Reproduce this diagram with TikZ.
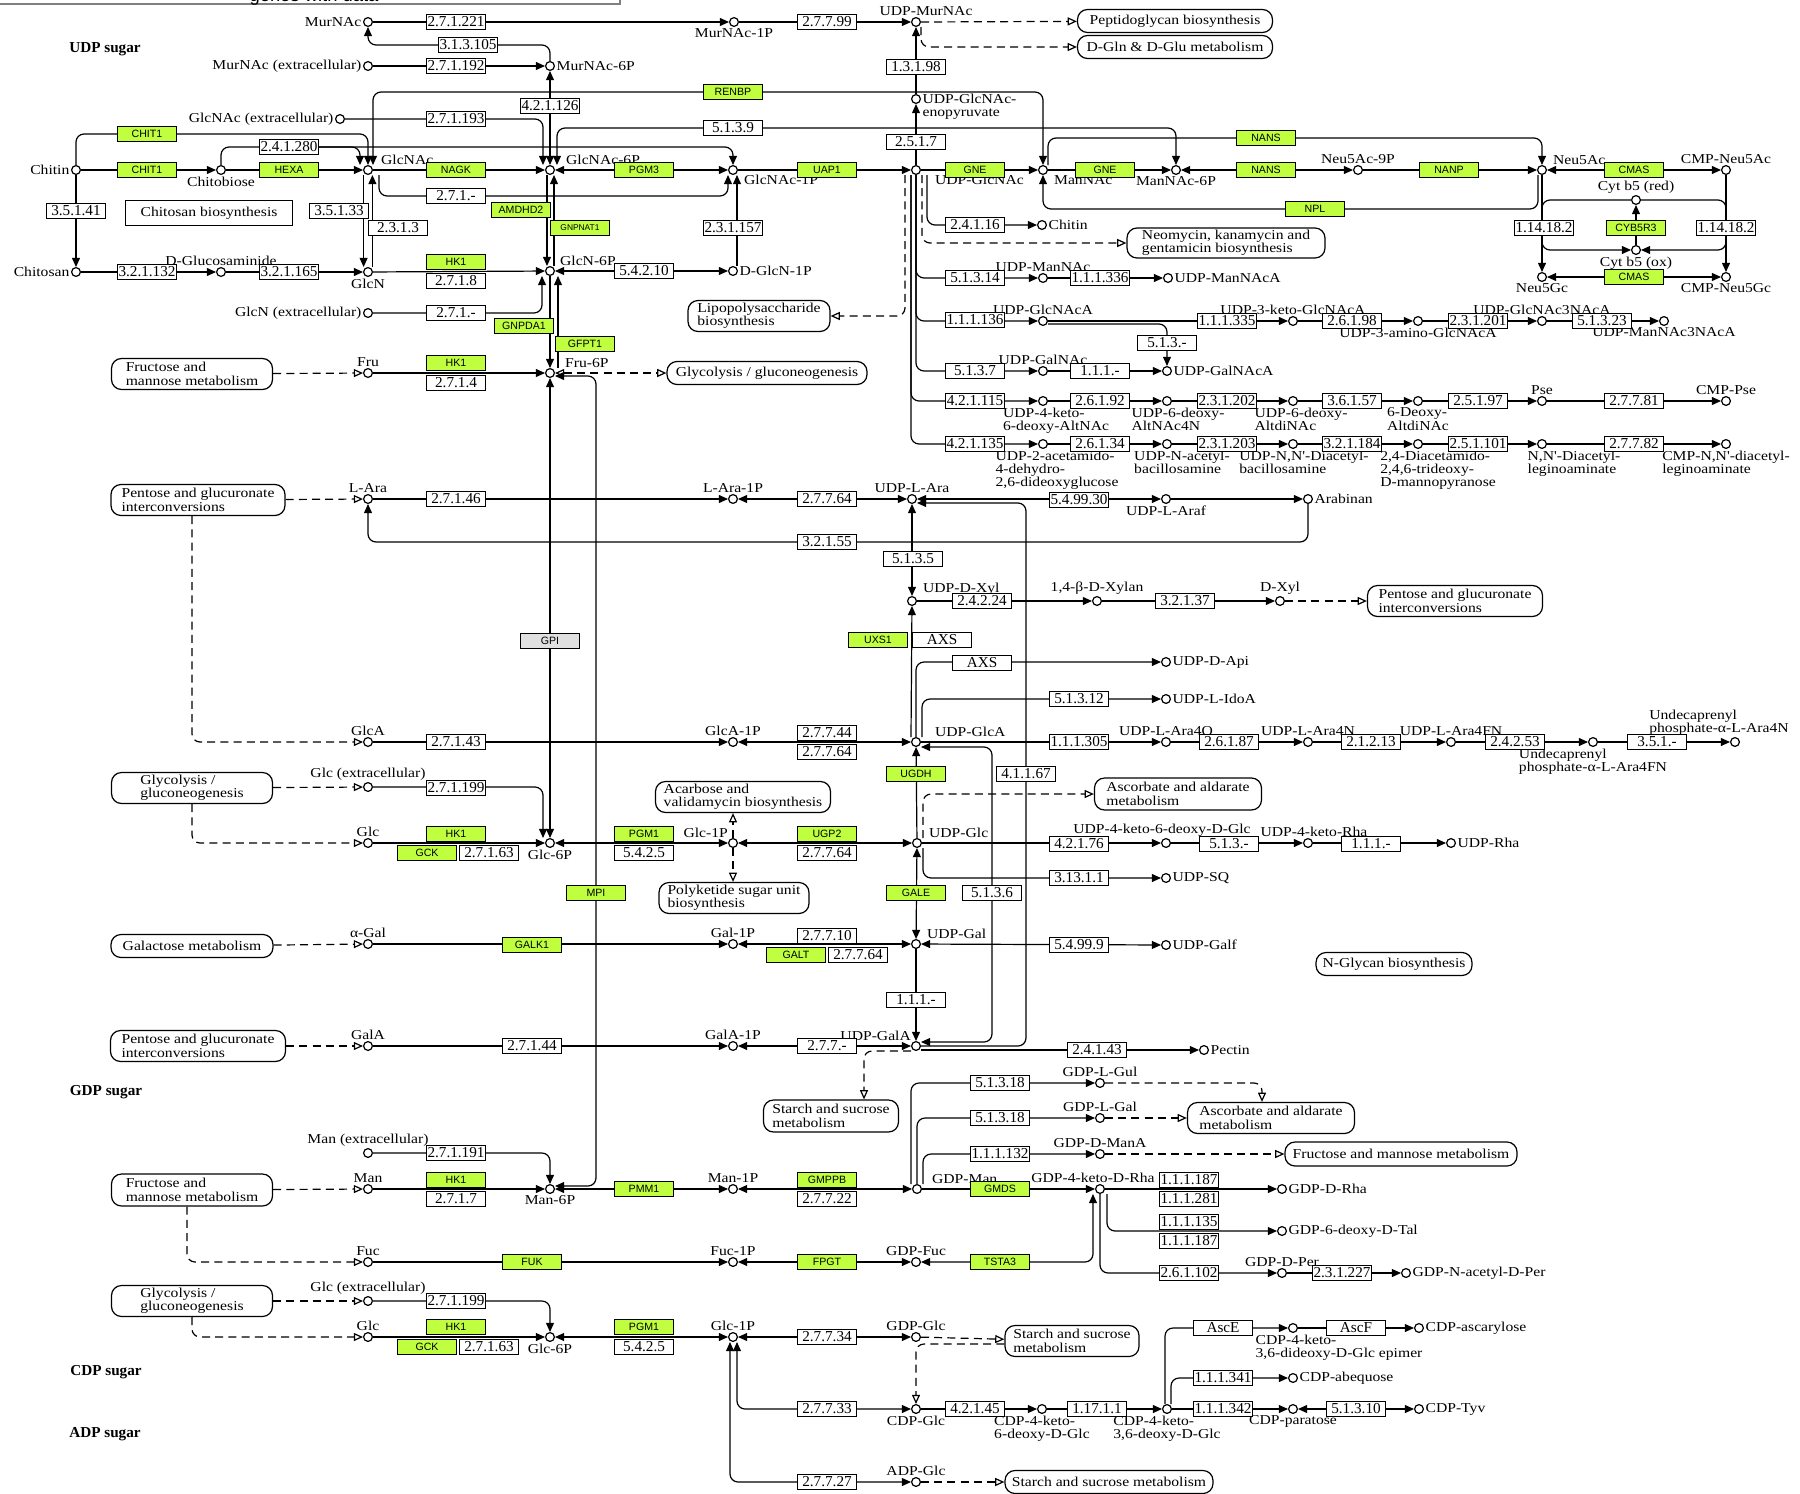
\documentclass[tikz,border=0pt]{standalone}
\usepackage{fontspec}
\setmainfont{Liberation Serif}
\newfontfamily\keggserif[FakeStretch=1.15]{Liberation Serif}
\newfontfamily\keggsans{Liberation Sans}
\usetikzlibrary{arrows.meta,positioning}
\pgfdeclarelayer{bg}
\pgfsetlayers{bg,main}
\definecolor{hit}{RGB}{191,255,63}
\definecolor{nohit}{RGB}{224,224,224}
\newcommand\cpdfont{\keggserif\fontsize{6.8}{6.7}\selectfont\lineskiplimit=-20pt\relax}
\newcommand\ecfont{\fontsize{7.6}{8}\selectfont}
\newcommand\genefont{\keggsans\fontsize{5.3}{6}\selectfont}
\tikzset{
  >={Triangle[length=4.6pt,width=4pt]},
  cpd/.style={circle,draw,fill=white,line width=0.6pt,minimum size=4.4pt,inner sep=0pt},
  lbl/.style={font=\cpdfont,inner sep=0.6pt,align=left},
  enz/.style={draw,fill=white,line width=0.6pt,minimum width=29.5pt,minimum height=7.6pt,inner sep=0pt,font=\ecfont},
  gene/.style={enz,fill=hit,font=\genefont},
  pmap/.style={draw,fill=white,rounded corners=5pt,line width=0.6pt,font=\cpdfont,align=left,inner sep=1pt},
  grp/.style={font=\bfseries\fontsize{7.6}{8}\selectfont,inner sep=0pt},
  rxn/.style={line width=0.6pt,rounded corners=4pt},
  fw/.style={->},
  bd/.style={<->},
  dl/.style={line width=0.6pt,rounded corners=4pt,dash pattern=on 4pt off 2.6pt,-{Triangle[open,length=4.6pt,width=4pt]}},
  dlb/.style={dl,{Triangle[open,length=4.6pt,width=4pt]}-{Triangle[open,length=4.6pt,width=4pt]}}
}
\begin{document}
\begin{tikzpicture}[x=0.5pt,y=-0.5pt]
\useasboundingbox (0,0) rectangle (1800,1494);
\begin{scope}
\clip (0,0) rectangle (1800,1494);
\draw[gray,line width=0.8pt,fill=white] (-10,-40) rectangle (620,4);
\node[font=\keggsans\fontsize{9.2}{10}\selectfont] (legend) at (314,-3) {genes with data};
\end{scope}

\node[grp] (udpsg) at (105,49) {UDP sugar};
\node[grp] (gdpsg) at (106,1092) {GDP sugar};
\node[grp] (cdpsg) at (106,1372) {CDP sugar};
\node[grp] (adpsg) at (105,1434) {ADP sugar};

% pathway maps
\node[pmap,minimum width=97.5pt,minimum height=11.5pt] (pepmap) at (1175,21) {Peptidoglycan biosynthesis};
\node[pmap,minimum width=97.5pt,minimum height=11.5pt] (dglnmap) at (1175,47) {D-Gln \& D-Glu metabolism};
\node[draw,fill=white,line width=0.6pt,minimum width=83.5pt,minimum height=11pt,font=\cpdfont] (chitobio) at (209,213) {Chitosan biosynthesis};
\node[pmap,minimum width=99pt,minimum height=15pt] (neomap) at (1226,243) {Neomycin, kanamycin and\\gentamicin biosynthesis};
\node[pmap,minimum width=71pt,minimum height=15.5pt] (lpsmap) at (759,316) {Lipopolysaccharide\\biosynthesis};
\node[pmap,minimum width=80.5pt,minimum height=15.5pt] (frucmapa) at (192,374) {Fructose and\\mannose metabolism};
\node[pmap,minimum width=100pt,minimum height=11.5pt] (glymapa) at (767,373) {Glycolysis / gluconeogenesis};
\node[pmap,minimum width=87pt,minimum height=15.5pt] (pentmapa) at (198,500) {Pentose and glucuronate\\interconversions};
\node[pmap,minimum width=87.5pt,minimum height=15.5pt] (pentmapb) at (1455,601) {Pentose and glucuronate\\interconversions};
\node[pmap,minimum width=80.5pt,minimum height=15.5pt] (glymapb) at (192,788) {Glycolysis /\\gluconeogenesis};
\node[pmap,minimum width=87.5pt,minimum height=15.5pt] (acarmap) at (743,797) {Acarbose and\\validamycin biosynthesis};
\node[pmap,minimum width=83.5pt,minimum height=16pt] (ascmapa) at (1178,794) {Ascorbate and aldarate\\metabolism};
\node[pmap,minimum width=75pt,minimum height=15.5pt] (polymap) at (734,898) {Polyketide sugar unit\\biosynthesis};
\node[pmap,minimum width=81pt,minimum height=11.5pt] (galmap) at (192,946) {Galactose metabolism};
\node[pmap,minimum width=78pt,minimum height=11.5pt] (nglymap) at (1394,964) {N-Glycan biosynthesis};
\node[pmap,minimum width=87.5pt,minimum height=15.5pt] (pentmapc) at (198,1046) {Pentose and glucuronate\\interconversions};
\node[pmap,minimum width=67.5pt,minimum height=16pt] (starchmapa) at (831,1116) {Starch and sucrose\\metabolism};
\node[pmap,minimum width=83.5pt,minimum height=15.5pt] (ascmapb) at (1271,1118) {Ascorbate and aldarate\\metabolism};
\node[pmap,minimum width=116pt,minimum height=12pt] (frucmapc) at (1401,1154) {Fructose and mannose metabolism};
\node[pmap,minimum width=80.5pt,minimum height=16pt] (frucmapb) at (192,1190) {Fructose and\\mannose metabolism};
\node[pmap,minimum width=80.5pt,minimum height=15.5pt] (glymapc) at (192,1301) {Glycolysis /\\gluconeogenesis};
\node[pmap,minimum width=67pt,minimum height=15.5pt] (starchmapb) at (1072,1341) {Starch and sucrose\\metabolism};
\node[pmap,minimum width=104pt,minimum height=11.5pt] (starchmapc) at (1109,1482) {Starch and sucrose metabolism};

% compounds
\node[cpd,label={[lbl]left:MurNAc}] (murnac) at (368,22) {};
\node[cpd,label={[lbl]below:MurNAc-1P}] (murnac1p) at (734,22) {};
\node[cpd,label={[lbl,xshift=5pt]above:UDP-MurNAc}] (udpmurnac) at (916,22) {};
\node[cpd,label={[lbl]left:MurNAc (extracellular)}] (murnacex) at (368,66) {};
\node[cpd,label={[lbl]right:MurNAc-6P}] (murnac6p) at (550,66) {};
\node[cpd,label={[lbl,anchor=west,yshift=-4pt]east:{UDP-GlcNAc-\\enopyruvate}}] (enopyr) at (916,99) {};
\node[cpd,label={[lbl]left:GlcNAc (extracellular)}] (glcnacex) at (340,119) {};
\node[cpd,label={[lbl]left:Chitin}] (chitin) at (76,170) {};
\node[cpd,label={[lbl]below:Chitobiose}] (chitobiose) at (221,170) {};
\node[cpd,label={[lbl,xshift=4pt]above right:GlcNAc}] (glcnac) at (368,170) {};
\node[cpd,label={[lbl,xshift=5.5pt]above right:GlcNAc-6P}] (glcnac6p) at (550,170) {};
\node[cpd,label={[lbl,xshift=3pt]below right:GlcNAc-1P}] (glcnac1p) at (733,170) {};
\node[cpd,label={[lbl,xshift=7pt]below right:UDP-GlcNAc}] (udpglcnac) at (916,170) {};
\node[cpd,label={[lbl,xshift=3pt]below right:ManNAc}] (mannac) at (1043,170) {};
\node[cpd,label={[lbl]below:ManNAc-6P}] (mannac6p) at (1176,170) {};
\node[cpd,label={[lbl]above:Neu5Ac-9P}] (neu5ac9p) at (1358,170) {};
\node[cpd,label={[lbl,xshift=3pt]above right:Neu5Ac}] (neu5ac) at (1542,170) {};
\node[cpd,label={[lbl]above:CMP-Neu5Ac}] (cmpneu5ac) at (1726,170) {};
\node[cpd,label={[lbl]above:Cyt b5 (red)}] (cytred) at (1636,200) {};
\node[cpd,label={[lbl]right:Chitin}] (chitinb) at (1042,225) {};
\node[cpd,label={[lbl]below:Cyt b5 (ox)}] (cytox) at (1636,250) {};
\node[cpd,label={[lbl]left:Chitosan}] (chitosan) at (76,272) {};
\node[cpd,label={[lbl]above:D-Glucosaminide}] (dglcsam) at (221,272) {};
\node[cpd,label={[lbl]below:GlcN}] (glcn) at (368,272) {};
\node[cpd,label={[lbl,xshift=2.5pt]above right:GlcN-6P}] (glcn6p) at (550,271) {};
\node[cpd,label={[lbl]right:D-GlcN-1P}] (dglcn1p) at (733,271) {};
\node[cpd,label={[lbl]below:Neu5Gc}] (neu5gc) at (1542,277) {};
\node[cpd,label={[lbl]below:CMP-Neu5Gc}] (cmpneu5gc) at (1726,277) {};
\node[cpd,label={[lbl]above:UDP-ManNAc}] (udpmannac) at (1043,278) {};
\node[cpd,label={[lbl]right:UDP-ManNAcA}] (udpmannaca) at (1168,278) {};
\node[cpd,label={[lbl]left:GlcN (extracellular)}] (glcnex) at (368,313) {};
\node[cpd,label={[lbl]above:UDP-GlcNAcA}] (udpglcnaca) at (1043,321) {};
\node[cpd,label={[lbl]above:UDP-3-keto-GlcNAcA}] (udp3keto) at (1293,321) {};
\node[cpd,label={[lbl]below:UDP-3-amino-GlcNAcA}] (udp3amino) at (1418,321) {};
\node[cpd,label={[lbl]above:UDP-GlcNAc3NAcA}] (udpglcnac3) at (1542,321) {};
\node[cpd,label={[lbl]below:UDP-ManNAc3NAcA}] (udpmannac3) at (1664,321) {};
\node[cpd,label={[lbl]above:UDP-GalNAc}] (udpgalnac) at (1043,371) {};
\node[cpd,label={[lbl]right:UDP-GalNAcA}] (udpgalnaca) at (1167,371) {};
\node[cpd,label={[lbl]above:Fru}] (fru) at (368,373) {};
\node[cpd,label={[lbl,xshift=5pt]above right:Fru-6P}] (fru6p) at (550,373) {};
\node[cpd,label={[lbl,xshift=6.5pt]below:{UDP-4-keto-\\6-deoxy-AltNAc}}] (c401a) at (1043,401) {};
\node[cpd,label={[lbl,xshift=5.5pt]below:{UDP-6-deoxy-\\AltNAc4N}}] (c401b) at (1167,401) {};
\node[cpd,label={[lbl,xshift=4pt]below:{UDP-6-deoxy-\\AltdiNAc}}] (c401c) at (1293,401) {};
\node[cpd,label={[lbl]below:{6-Deoxy-\\AltdiNAc}}] (c401d) at (1418,401) {};
\node[cpd,label={[lbl]above:Pse}] (pse) at (1542,401) {};
\node[cpd,label={[lbl]above:CMP-Pse}] (cmppse) at (1726,401) {};
\node[cpd,label={[lbl,xshift=7pt]below:{UDP-2-acetamido-\\4-dehydro-\\2,6-dideoxyglucose}}] (c444a) at (1043,444) {};
\node[cpd,label={[lbl,xshift=7.5pt]below:{UDP-N-acetyl-\\bacillosamine}}] (c444b) at (1167,444) {};
\node[cpd,label={[lbl,xshift=5.5pt]below:{UDP-N,N'-Diacetyl-\\bacillosamine}}] (c444c) at (1293,444) {};
\node[cpd,label={[lbl,xshift=10pt]below:{2,4-Diacetamido-\\2,4,6-trideoxy-\\D-mannopyranose}}] (c444d) at (1418,444) {};
\node[cpd,label={[lbl,xshift=16pt]below:{N,N'-Diacetyl-\\leginoaminate}}] (c444e) at (1542,444) {};
\node[cpd,label={[lbl]below:{CMP-N,N'-diacetyl-\\leginoaminate}}] (c444f) at (1726,444) {};
\node[cpd,label={[lbl]above:L-Ara}] (lara) at (368,499) {};
\node[cpd,label={[lbl]above:L-Ara-1P}] (lara1p) at (733,499) {};
\node[cpd,label={[lbl]above:UDP-L-Ara}] (udplara) at (912,499) {};
\node[cpd,label={[lbl]below:UDP-L-Araf}] (udplaraf) at (1166,499) {};
\node[cpd,label={[lbl]right:Arabinan}] (arabinan) at (1308,499) {};
\node[cpd,label={[lbl,xshift=3pt]above right:UDP-D-Xyl}] (udpdxyl) at (912,601) {};
\node[cpd,label={[lbl]above:1,4-β-D-Xylan}] (xylan) at (1097,601) {};
\node[cpd,label={[lbl]above:D-Xyl}] (dxyl) at (1280,601) {};
\node[cpd,label={[lbl]right:UDP-D-Api}] (udpdapi) at (1166,662) {};
\node[cpd,label={[lbl]right:UDP-L-IdoA}] (udplidoa) at (1166,699) {};
\node[cpd,label={[lbl]above:GlcA}] (glca) at (368,742) {};
\node[cpd,label={[lbl]above:GlcA-1P}] (glca1p) at (733,742) {};
\node[cpd,label={[lbl,xshift=7pt]above right:UDP-GlcA}] (udpglca) at (916,742) {};
\node[cpd,label={[lbl]above:UDP-L-Ara4O}] (udplara4o) at (1166,742) {};
\node[cpd,label={[lbl]above:UDP-L-Ara4N}] (udplara4n) at (1308,742) {};
\node[cpd,label={[lbl]above:UDP-L-Ara4FN}] (udplara4fn) at (1451,742) {};
\node[cpd,label={[lbl]below:{Undecaprenyl\\phosphate-α-L-Ara4FN}}] (undfn) at (1593,742) {};
\node[cpd,label={[lbl,xshift=-8pt]above:{Undecaprenyl\\phosphate-α-L-Ara4N}}] (undn) at (1735,742) {};
\node[cpd,label={[lbl]above:Glc (extracellular)}] (glcex) at (368,787) {};
\node[cpd,label={[lbl]above:Glc}] (glc) at (368,843) {};
\node[cpd,label={[lbl]below:Glc-6P}] (glc6p) at (550,843) {};
\node[cpd,label={[lbl]above left:Glc-1P}] (glc1p) at (733,843) {};
\node[cpd,label={[lbl,xshift=3.5pt]above right:UDP-Glc}] (udpglc) at (917,843) {};
\node[cpd,label={[lbl,xshift=-2pt]above:UDP-4-keto-6-deoxy-D-Glc}] (c843a) at (1166,843) {};
\node[cpd,label={[lbl,xshift=3pt]above:UDP-4-keto-Rha}] (c843b) at (1308,843) {};
\node[cpd,label={[lbl]right:UDP-Rha}] (udprha) at (1451,843) {};
\node[cpd,label={[lbl]right:UDP-SQ}] (udpsq) at (1166,878) {};
\node[cpd,label={[lbl]above:α-Gal}] (agal) at (368,944) {};
\node[cpd,label={[lbl]above:Gal-1P}] (gal1p) at (733,944) {};
\node[cpd,label={[lbl,xshift=3pt]above right:UDP-Gal}] (udpgal) at (916,944) {};
\node[cpd,label={[lbl]right:UDP-Galf}] (udpgalf) at (1166,945) {};
\node[cpd,label={[lbl]above:GalA}] (gala) at (368,1046) {};
\node[cpd,label={[lbl]above:GalA-1P}] (gala1p) at (733,1046) {};
\node[cpd,label={[lbl]above left:UDP-GalA}] (udpgala) at (916,1046) {};
\node[cpd,label={[lbl]right:Pectin}] (pectin) at (1204,1050) {};
\node[cpd,label={[lbl]above:GDP-L-Gul}] (gdplgul) at (1100,1083) {};
\node[cpd,label={[lbl]above:GDP-L-Gal}] (gdplgal) at (1100,1118) {};
\node[cpd,label={[lbl]above:GDP-D-ManA}] (gdpdmana) at (1100,1154) {};
\node[cpd,label={[lbl]above:Man (extracellular)}] (manex) at (368,1153) {};
\node[cpd,label={[lbl]above:Man}] (man) at (368,1189) {};
\node[cpd,label={[lbl]below:Man-6P}] (man6p) at (550,1189) {};
\node[cpd,label={[lbl]above:Man-1P}] (man1p) at (733,1189) {};
\node[cpd,label={[lbl,xshift=5pt]above right:GDP-Man}] (gdpman) at (917,1189) {};
\node[cpd,label={[lbl,xshift=-3.5pt]above:GDP-4-keto-D-Rha}] (gdp4k) at (1100,1189) {};
\node[cpd,label={[lbl]right:GDP-D-Rha}] (gdpdrha) at (1282,1189) {};
\node[cpd,label={[lbl]right:GDP-6-deoxy-D-Tal}] (gdp6dtal) at (1282,1231) {};
\node[cpd,label={[lbl]above:Fuc}] (fuc) at (368,1262) {};
\node[cpd,label={[lbl]above:Fuc-1P}] (fuc1p) at (733,1262) {};
\node[cpd,label={[lbl]above:GDP-Fuc}] (gdpfuc) at (916,1262) {};
\node[cpd,label={[lbl]above:GDP-D-Per}] (gdpdper) at (1282,1273) {};
\node[cpd,label={[lbl]right:GDP-N-acetyl-D-Per}] (gdpnacper) at (1406,1273) {};
\node[cpd,label={[lbl]above:Glc (extracellular)}] (glcexb) at (368,1301) {};
\node[cpd,label={[lbl]above:Glc}] (glcb) at (368,1337) {};
\node[cpd,label={[lbl]below:Glc-6P}] (glc6pb) at (550,1337) {};
\node[cpd,label={[lbl]above:Glc-1P}] (glc1pb) at (733,1337) {};
\node[cpd,label={[lbl]above:GDP-Glc}] (gdpglc) at (916,1337) {};
\node[cpd,label={[lbl,xshift=23pt]below:{CDP-4-keto-\\3,6-dideoxy-D-Glc epimer}}] (c1328) at (1293,1328) {};
\node[cpd,label={[lbl]right:CDP-ascarylose}] (cdpascar) at (1419,1328) {};
\node[cpd,label={[lbl]right:CDP-abequose}] (cdpabe) at (1293,1378) {};
\node[cpd,label={[lbl]below:CDP-Glc}] (cdpglc) at (916,1409) {};
\node[cpd,label={[lbl]below:{CDP-4-keto-\\6-deoxy-D-Glc}}] (c1409a) at (1042,1409) {};
\node[cpd,label={[lbl]below:{CDP-4-keto-\\3,6-deoxy-D-Glc}}] (c1409b) at (1167,1409) {};
\node[cpd,label={[lbl]below:CDP-paratose}] (cdppara) at (1293,1409) {};
\node[cpd,label={[lbl]right:CDP-Tyv}] (cdptyv) at (1419,1409) {};
\node[cpd,label={[lbl]above:ADP-Glc}] (adpglc) at (916,1482) {};

% enzymes
\node[enz] (e2711221) at (456,22) {2.7.1.221};
\node[enz] (e27799) at (827,22) {2.7.7.99};
\node[enz] (e313105) at (468,45) {3.1.3.105};
\node[enz] (e2711192) at (456,66) {2.7.1.192};
\node[enz] (e131198) at (916,67) {1.3.1.98};
\node[gene] (renbp) at (733,92) {RENBP};
\node[enz] (e421126) at (550,106) {4.2.1.126};
\node[enz] (e2711193) at (456,119) {2.7.1.193};
\node[enz] (e5139) at (733,128) {5.1.3.9};
\node[gene] (chit1a) at (147,134) {CHIT1};
\node[gene] (nansb) at (1266,138) {NANS};
\node[enz] (e2517) at (916,142) {2.5.1.7};
\node[enz] (e241280) at (289,147) {2.4.1.280};
\node[gene] (chit1b) at (147,170) {CHIT1};
\node[gene] (hexa) at (289,170) {HEXA};
\node[gene] (nagk) at (456,170) {NAGK};
\node[gene] (pgm3) at (644,170) {PGM3};
\node[gene] (uap1) at (827,170) {UAP1};
\node[gene] (gnea) at (975,170) {GNE};
\node[gene] (gneb) at (1105,170) {GNE};
\node[gene] (nansa) at (1266,170) {NANS};
\node[gene] (nanp) at (1449,170) {NANP};
\node[gene] (cmasa) at (1634,170) {CMAS};
\node[enz] (e271a) at (456,196) {2.7.1.-};
\node[gene] (npl) at (1315,209) {NPL};
\node[gene] (amdhd2) at (521,210) {AMDHD2};
\node[enz] (e35141) at (76,211) {3.5.1.41};
\node[enz] (e35133) at (339,211) {3.5.1.33};
\node[enz] (e24116) at (975,225) {2.4.1.16};
\node[enz] (e2313) at (398,228) {2.3.1.3};
\node[gene,font=\keggsans\fontsize{4.2}{5}\selectfont] (gnpnat1) at (580,228) {GNPNAT1};
\node[enz] (e231157) at (733,228) {2.3.1.157};
\node[enz] (e1141821) at (1544,228) {1.14.18.2};
\node[gene] (cyb5r3) at (1636,228) {CYB5R3};
\node[enz] (e1141822) at (1726,228) {1.14.18.2};
\node[gene] (hk1a) at (456,262) {HK1};
\node[enz] (e321132) at (147,272) {3.2.1.132};
\node[enz] (e321165) at (289,272) {3.2.1.165};
\node[enz] (e54210) at (644,271) {5.4.2.10};
\node[gene] (cmasb) at (1634,277) {CMAS};
\node[enz] (e51314) at (975,278) {5.1.3.14};
\node[enz] (e111336) at (1100,278) {1.1.1.336};
\node[enz] (e2718) at (456,281) {2.7.1.8};
\node[enz] (e271b) at (456,313) {2.7.1.-};
\node[enz] (e111136) at (975,320) {1.1.1.136};
\node[enz] (e111335) at (1227,321) {1.1.1.335};
\node[enz] (e26198) at (1352,321) {2.6.1.98};
\node[enz] (e231201) at (1478,321) {2.3.1.201};
\node[enz] (e51323) at (1602,321) {5.1.3.23};
\node[gene] (gnpda1) at (524,326) {GNPDA1};
\node[enz] (e513a) at (1167,343) {5.1.3.-};
\node[gene] (gfpt1) at (585,344) {GFPT1};
\node[gene] (hk1b) at (456,363) {HK1};
\node[enz] (e5137) at (975,371) {5.1.3.7};
\node[enz] (e111a) at (1100,371) {1.1.1.-};
\node[enz] (e2714) at (456,383) {2.7.1.4};
\node[enz] (e421115) at (975,401) {4.2.1.115};
\node[enz] (e26192) at (1100,401) {2.6.1.92};
\node[enz] (e231202) at (1227,401) {2.3.1.202};
\node[enz] (e36157) at (1352,401) {3.6.1.57};
\node[enz] (e25197) at (1478,401) {2.5.1.97};
\node[enz] (e27781) at (1634,401) {2.7.7.81};
\node[enz] (e421135) at (975,444) {4.2.1.135};
\node[enz] (e26134) at (1100,444) {2.6.1.34};
\node[enz] (e231203) at (1227,444) {2.3.1.203};
\node[enz] (e321184) at (1352,444) {3.2.1.184};
\node[enz] (e251101) at (1478,444) {2.5.1.101};
\node[enz] (e27782) at (1634,444) {2.7.7.82};
\node[enz] (e27146) at (456,499) {2.7.1.46};
\node[enz] (e27764a) at (827,499) {2.7.7.64};
\node[enz] (e549930) at (1079,500) {5.4.99.30};
\node[enz] (e32155) at (827,542) {3.2.1.55};
\node[enz] (e5135) at (913,559) {5.1.3.5};
\node[enz] (e24224) at (982,601) {2.4.2.24};
\node[enz] (e32137) at (1185,601) {3.2.1.37};
\node[gene,fill=nohit] (gpi) at (550,641) {GPI};
\node[gene] (uxs1) at (878,640) {UXS1};
\node[enz] (axsa) at (942,640) {AXS};
\node[enz] (axsb) at (982,663) {AXS};
\node[enz] (e51312) at (1079,699) {5.1.3.12};
\node[enz] (e27143) at (456,742) {2.7.1.43};
\node[enz] (e27744) at (827,733) {2.7.7.44};
\node[enz] (e27764b) at (827,752) {2.7.7.64};
\node[enz] (e111305) at (1079,742) {1.1.1.305};
\node[enz] (e26187) at (1229,742) {2.6.1.87};
\node[enz] (e21213) at (1371,742) {2.1.2.13};
\node[enz] (e24253) at (1515,742) {2.4.2.53};
\node[enz] (e351a) at (1657,742) {3.5.1.-};
\node[gene] (ugdh) at (916,774) {UGDH};
\node[enz] (e41167) at (1026,774) {4.1.1.67};
\node[enz] (e271199a) at (456,788) {2.7.1.199};
\node[gene] (hk1c) at (456,834) {HK1};
\node[gene] (gcka) at (427,853) {GCK};
\node[enz] (e27163a) at (489,853) {2.7.1.63};
\node[gene] (pgm1a) at (644,834) {PGM1};
\node[enz] (e5425a) at (644,853) {5.4.2.5};
\node[gene] (ugp2) at (827,834) {UGP2};
\node[enz] (e27764c) at (827,853) {2.7.7.64};
\node[enz] (e42176) at (1079,844) {4.2.1.76};
\node[enz] (e513b) at (1229,844) {5.1.3.-};
\node[enz] (e111b) at (1371,844) {1.1.1.-};
\node[enz] (e313111) at (1079,878) {3.13.1.1};
\node[gene] (mpi) at (596,893) {MPI};
\node[gene] (gale) at (916,893) {GALE};
\node[enz] (e5136) at (992,893) {5.1.3.6};
\node[gene] (galk1) at (532,945) {GALK1};
\node[enz] (e27710) at (827,936) {2.7.7.10};
\node[gene] (galt) at (796,955) {GALT};
\node[enz] (e27764d) at (858,955) {2.7.7.64};
\node[enz] (e54999) at (1079,945) {5.4.99.9};
\node[enz] (e111c) at (916,1000) {1.1.1.-};
\node[enz] (e27144) at (532,1046) {2.7.1.44};
\node[enz] (e277a) at (827,1046) {2.7.7.-};
\node[enz] (e24143) at (1097,1050) {2.4.1.43};
\node[enz] (e51318a) at (1000,1083) {5.1.3.18};
\node[enz] (e51318b) at (1000,1118) {5.1.3.18};
\node[enz] (e111132) at (1000,1154) {1.1.1.132};
\node[enz] (e271191) at (456,1153) {2.7.1.191};
\node[gene] (hk1d) at (456,1180) {HK1};
\node[enz] (e2717) at (456,1199) {2.7.1.7};
\node[gene] (pmm1) at (644,1189) {PMM1};
\node[gene] (gmppb) at (827,1180) {GMPPB};
\node[enz] (e27722) at (827,1199) {2.7.7.22};
\node[gene] (gmds) at (1000,1189) {GMDS};
\node[enz] (e111187a) at (1189,1180) {1.1.1.187};
\node[enz] (e111281) at (1189,1199) {1.1.1.281};
\node[enz] (e111135) at (1189,1222) {1.1.1.135};
\node[enz] (e111187b) at (1189,1241) {1.1.1.187};
\node[gene] (fuk) at (532,1262) {FUK};
\node[gene] (fpgt) at (827,1262) {FPGT};
\node[gene] (tsta3) at (1000,1262) {TSTA3};
\node[enz] (e261102) at (1189,1273) {2.6.1.102};
\node[enz] (e231227) at (1342,1273) {2.3.1.227};
\node[enz] (e271199b) at (456,1301) {2.7.1.199};
\node[gene] (hk1e) at (456,1327) {HK1};
\node[gene] (gckb) at (427,1347) {GCK};
\node[enz] (e27163b) at (489,1347) {2.7.1.63};
\node[gene] (pgm1b) at (644,1327) {PGM1};
\node[enz] (e5425b) at (644,1347) {5.4.2.5};
\node[enz] (e27734) at (827,1337) {2.7.7.34};
\node[enz] (asce) at (1223,1328) {AscE};
\node[enz] (ascf) at (1356,1328) {AscF};
\node[enz] (e1111341) at (1223,1378) {1.1.1.341};
\node[enz] (e27733) at (827,1409) {2.7.7.33};
\node[enz] (e42145) at (975,1409) {4.2.1.45};
\node[enz] (e117111) at (1097,1409) {1.17.1.1};
\node[enz] (e111342) at (1223,1409) {1.1.1.342};
\node[enz] (e51310) at (1356,1409) {5.1.3.10};
\node[enz] (e27727) at (827,1482) {2.7.7.27};

\begin{pgfonlayer}{bg}
% UDP-GlcNAc, MurNAc
\draw[rxn,fw] (murnac) -- (murnac1p);
\draw[rxn,fw] (murnac1p) -- (udpmurnac);
\draw[rxn,fw] (murnac6p) |- (e313105.center) -| (murnac);
\draw[rxn,fw] (murnacex) -- (murnac6p);
\draw[rxn,bd] (glcnac6p) -- (murnac6p);
\draw[rxn,fw] (udpglcnac) -- (enopyr);
\draw[rxn,fw] (enopyr) -- (udpmurnac);
\draw[dl] (udpmurnac) -- (pepmap);
\draw[dl] ([xshift=2.5pt]udpmurnac.south) |- (dglnmap);
\draw[rxn,fw] (chitin) |- (chit1a.center) -| (glcnac);
\draw[rxn,fw] (chitin) -- (chitobiose);
\draw[rxn,fw] (chitobiose) -- (glcnac);
\draw[rxn,fw] (chitin) -- (chitosan);
\draw[rxn,fw] (chitobiose) |- (e241280.center) -| ([xshift=-4pt]glcnac.north);
\draw[rxn,fw] (e241280.center) -| (glcnac1p);
\draw[rxn,bd] ([xshift=2.5pt]glcnac.north) |- (renbp.center) -| (mannac);
\draw[rxn,fw] (glcnacex) -| ([xshift=-3.5pt]glcnac6p.north);
\draw[rxn,bd] ([xshift=3.5pt]glcnac6p.north) |- (e5139.center) -| (mannac6p);
\draw[rxn,fw] ([xshift=-2.2pt]glcnac.south) -- ([xshift=-2.2pt]glcn.north);
\draw[rxn,fw] ([xshift=2.2pt]glcn.north) -- ([xshift=2.2pt]glcnac.south);
\draw[rxn,fw] (glcnac) -- (glcnac6p);
\draw[rxn,fw] ([xshift=5.5pt]glcnac.south) |- (e271a.center) -| ([xshift=-2.5pt]glcnac1p.south);
\draw[rxn,bd] (glcnac6p) -- (glcnac1p);
\draw[rxn,fw] (glcnac1p) -- (udpglcnac);
\draw[rxn,fw] ([xshift=2pt]dglcn1p.north) -- ([xshift=2pt]glcnac1p.south);
\draw[rxn,fw] ([xshift=-1.5pt]glcnac6p.south) -- ([xshift=-1.5pt]glcn6p.north);
\draw[rxn,fw] ([xshift=2pt]glcn6p.north) -- ([xshift=2pt]glcnac6p.south);
\draw[rxn,fw] (glcn) -- (glcn6p);
\draw[rxn,fw] (chitosan) -- (dglcsam);
\draw[rxn,fw] (dglcsam) -- (glcn);
\draw[rxn,fw] (glcnex) -| ([xshift=-4pt]glcn6p.south);
\draw[rxn,bd] (glcn6p) -- (dglcn1p);
\draw[rxn,fw] (glcn6p) -- (fru6p);
\draw[rxn,fw] ([xshift=4pt]fru6p.north) -- ([xshift=4pt]glcn6p.south);
\draw[rxn,fw] (fru) -- (fru6p);
\draw[dl] (frucmapa) -- (fru);
\draw[dlb] (fru6p) -- (glymapa);
\draw[rxn,bd] (fru6p) -- (glc6p);
\draw[rxn,bd] ([yshift=-1.5pt]fru6p.east) -| (mpi.center) |- ([yshift=1.5pt]man6p.east);
\draw[dl] ([xshift=-5.5pt]udpglcnac.south) |- (lpsmap);
\draw[dl] ([xshift=3pt]udpglcnac.south) |- (neomap);
\draw[rxn,fw] ([xshift=5.5pt]udpglcnac.south) |- (chitinb);
\draw[rxn,fw] (udpglcnac) |- (udpmannac);
\draw[rxn,fw] (udpglcnac) |- (udpglcnaca);
\draw[rxn,fw] (udpglcnac) |- (udpgalnac);
\draw[rxn,fw] ([xshift=-2.5pt]udpglcnac.south) |- (c401a);
\draw[rxn,fw] ([xshift=-2.5pt]udpglcnac.south) |- (c444a);
\draw[rxn,fw] (udpmannac) -- (udpmannaca);
\draw[rxn,fw] (udpglcnaca) -- (udp3keto);
\draw[rxn,fw] (udp3keto) -- (udp3amino);
\draw[rxn,fw] (udp3amino) -- (udpglcnac3);
\draw[rxn,fw] (udpglcnac3) -- (udpmannac3);
\draw[rxn,fw] ([yshift=-1.5pt]udpglcnaca.east) -| (udpgalnaca);
\draw[rxn,fw] (udpgalnac) -- (udpgalnaca);
\draw[rxn,fw] (c401a) -- (c401b);
\draw[rxn,fw] (c401b) -- (c401c);
\draw[rxn,fw] (c401c) -- (c401d);
\draw[rxn,fw] (c401d) -- (pse);
\draw[rxn,fw] (pse) -- (cmppse);
\draw[rxn,fw] (c444a) -- (c444b);
\draw[rxn,fw] (c444b) -- (c444c);
\draw[rxn,fw] (c444c) -- (c444d);
\draw[rxn,fw] (c444d) -- (c444e);
\draw[rxn,fw] (c444e) -- (c444f);
% sialic acids
\draw[rxn,fw] (udpglcnac) -- (mannac);
\draw[rxn,fw] (mannac) -- (mannac6p);
\draw[rxn,bd] (mannac6p) -- (neu5ac9p);
\draw[rxn,fw] ([xshift=2.5pt]mannac.north) |- (nansb.center) -| (neu5ac);
\draw[rxn,fw] (neu5ac9p) -- (neu5ac);
\draw[rxn,fw] ([xshift=-2pt]neu5ac.south) |- (npl.center) -| (mannac);
\draw[rxn,bd] (neu5ac) -- (cmpneu5ac);
\draw[rxn,fw] (neu5ac) -- (neu5gc);
\draw[rxn,fw] (cmpneu5ac) -- (cmpneu5gc);
\draw[rxn,bd] (neu5gc) -- (cmpneu5gc);
\draw[rxn,fw] (cytox) -- (cytred);
\draw[rxn] (cytred) -| (neu5ac |- e1141821.north);
\draw[rxn] (cytred) -| (cmpneu5ac |- e1141822.north);
\draw[rxn,fw] (neu5ac |- e1141821.south) |- (cytox);
\draw[rxn,fw] (cmpneu5ac |- e1141822.south) |- (cytox);
% UDP-Glc and relatives
\draw[dl] (pentmapa) -- (lara);
\draw[rxn,fw] (lara) -- (lara1p);
\draw[rxn,bd] (lara1p) -- (udplara);
\draw[rxn,fw] (arabinan) |- (e32155.center) -| (lara);
\draw[rxn,bd] (udplara) -- (udplaraf);
\draw[rxn,fw] (udplaraf) -- (arabinan);
\draw[rxn,fw] (udpgala) -| (e41167.center) |- ([yshift=-2pt]udplara.east);
\draw[rxn,bd] (udpdxyl) -- (udplara);
\draw[rxn,fw] ([xshift=-2.5pt]udpglca.north) -- (udpdxyl);
\draw[rxn,fw] (udpdxyl) -- (xylan);
\draw[rxn,fw] (xylan) -- (dxyl);
\draw[dl] (dxyl) -- (pentmapb);
\draw[rxn,fw] (udpglca) |- (udpdapi);
\draw[rxn,fw] ([xshift=3pt]udpglca.north) |- (udplidoa);
\draw[rxn,fw] (udpglca) -- (udplara4o);
\draw[rxn,fw] (udplara4o) -- (udplara4n);
\draw[rxn,fw] (udplara4n) -- (udplara4fn);
\draw[rxn,fw] (udplara4fn) -- (undfn);
\draw[rxn,fw] (undfn) -- (undn);
\draw[rxn,bd] ([yshift=-2.5pt]udpglca.east) -| (e5136.center) |- ([yshift=2pt]udpgala.east);
\draw[dl] ([xshift=-3pt]pentmapa.south) |- (glca);
\draw[rxn,fw] (glca) -- (glca1p);
\draw[rxn,bd] (glca1p) -- (udpglca);
\draw[rxn,fw] (udpglc) -- (udpglca);
\draw[rxn,bd] (udpgal) -- (udpglc);
\draw[rxn,fw] (udpgal) -- (udpgala);
\draw[rxn,bd] (glc1p) -- (udpglc);
\draw[rxn,bd] (glc6p) -- (glc1p);
\draw[rxn,fw] (glc) -- (glc6p);
\draw[rxn,fw] (glcex) -| ([xshift=-3.5pt]glc6p.north);
\draw[dl] (glymapb) -- (glcex);
\draw[dl] (glymapb) |- (glc);
\draw[dl] (glc1p) -- (glc1p |- acarmap.south);
\draw[dl] (glc1p) -- (glc1p |- polymap.north);
\draw[dl] ([xshift=3pt]udpglc.north) |- (ascmapa);
\draw[rxn,fw] (udpglc) -- (c843a);
\draw[rxn,fw] (c843a) -- (c843b);
\draw[rxn,fw] (c843b) -- (udprha);
\draw[rxn,fw] ([xshift=3pt]udpglc.south) |- (udpsq);
\draw[dl] (galmap) -- (agal);
\draw[rxn,fw] (agal) -- (gal1p);
\draw[rxn,bd] (gal1p) -- (udpgal);
\draw[rxn,bd] (udpgal) -- (udpgalf);
\draw[dl] (pentmapc) -- (gala);
\draw[rxn,fw] (gala) -- (gala1p);
\draw[rxn,bd] (gala1p) -- (udpgala);
\draw[rxn,fw] ([yshift=-2pt]udpgala.east) -- (pectin);
\draw[dl] ([yshift=-2.5pt]udpgala.west) -| ([xshift=16.5pt]starchmapa.north);
% GDP sugars
\draw[dl] (frucmapb) -- (man);
\draw[dl] ([xshift=-2.5pt]frucmapb.south) |- (fuc);
\draw[rxn,fw] (manex) -| (man6p);
\draw[rxn,fw] (man) -- (man6p);
\draw[rxn,bd] (man6p) -- (man1p);
\draw[rxn,bd] (man1p) -- (gdpman);
\draw[rxn,fw] (gdpman) -- (gdp4k);
\draw[rxn,fw] ([xshift=-3pt]gdpman.north) |- (gdplgul);
\draw[rxn,fw] (gdpman) |- (gdplgal);
\draw[rxn,fw] ([xshift=3pt]gdpman.north) |- (gdpdmana);
\draw[dl] (gdplgul) -| ([xshift=-4.5pt]ascmapb.north);
\draw[dl] (gdplgal) -- (ascmapb);
\draw[dl] (gdpdmana) -- (frucmapc);
\draw[rxn,fw] (gdp4k) -- (gdpdrha);
\draw[rxn,fw] ([xshift=3.5pt]gdp4k.south) |- (gdp6dtal);
\draw[rxn,fw] (gdp4k) |- (gdpdper);
\draw[rxn,bd] ([xshift=-3.5pt]gdp4k.south) |- (gdpfuc);
\draw[rxn,fw] (gdpdper) -- (gdpnacper);
\draw[rxn,fw] (fuc) -- (fuc1p);
\draw[rxn,bd] (fuc1p) -- (gdpfuc);
% CDP and ADP sugars
\draw[dl] (glymapc) -- (glcexb);
\draw[dl] (glymapc) |- (glcb);
\draw[rxn,fw] (glcexb) -| (glc6pb);
\draw[rxn,fw] (glcb) -- (glc6pb);
\draw[rxn,bd] (glc6pb) -- (glc1pb);
\draw[rxn,bd] (glc1pb) -- (gdpglc);
\draw[rxn,bd] ([xshift=2pt]glc1pb.south) |- (cdpglc);
\draw[rxn,bd] ([xshift=-1.5pt]glc1pb.south) |- (adpglc);
\draw[dl] (gdpglc) -- (starchmapb);
\draw[dl] ([yshift=-1.5pt]starchmapb.west) -| (cdpglc);
\draw[dl] (adpglc) -- (starchmapc);
\draw[rxn,fw] (cdpglc) -- (c1409a);
\draw[rxn,fw] (c1409a) -- (c1409b);
\draw[rxn,fw] (c1409b) -- (cdppara);
\draw[rxn,bd] (cdppara) -- (cdptyv);
\draw[rxn,fw] ([xshift=-1pt]c1409b.north) |- (c1328);
\draw[rxn,fw] ([xshift=2pt]c1409b.north) |- (cdpabe);
\draw[rxn,fw] (c1328) -- (cdpascar);
\end{pgfonlayer}
\end{tikzpicture}
\end{document}
